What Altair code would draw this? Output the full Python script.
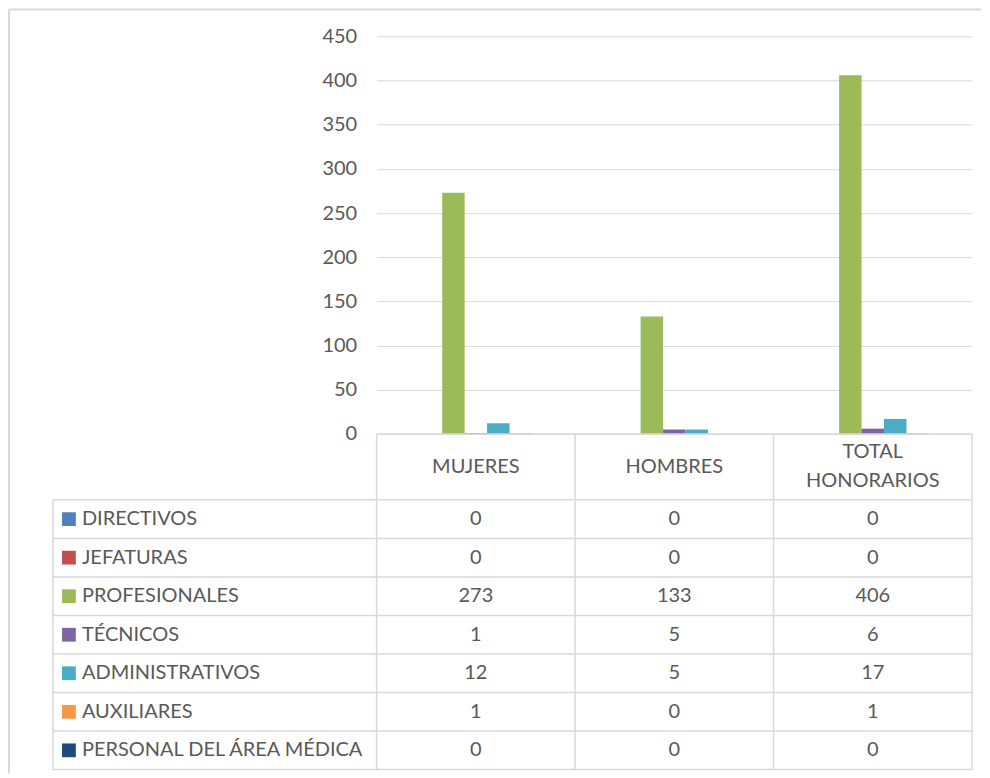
import altair as alt
import pandas as pd

# ---- data ----
categories = ["MUJERES", "HOMBRES", "TOTAL HONORARIOS"]
series = ["DIRECTIVOS", "JEFATURAS", "PROFESIONALES", "TÉCNICOS",
          "ADMINISTRATIVOS", "AUXILIARES", "PERSONAL DEL ÁREA MÉDICA"]
mujeres = [0, 0, 273, 1, 12, 1, 0]
hombres = [0, 0, 133, 5, 5, 0, 0]
total_honorarios = [0, 0, 406, 6, 17, 1, 0]
colors = ["#4F81BD", "#C0504D", "#9BBB59", "#8064A2", "#4BACC6", "#F79646", "#1F497D"]
y_ticks = [0, 50, 100, 150, 200, 250, 300, 350, 400, 450]

# ---- layout / style ----
W = 596
H_BARS = 398
H_TABLE = 336
HEADER = 1.71            # header row height in row units
N_ROWS = len(series)
ROW_PX = H_TABLE / (HEADER + N_ROWS)
COL_PX = W / 3
LEFT_COL = 324 / COL_PX  # legend column width in column units
FONT = "Lato"
TXT = "#595959"
GRID = "#d9d9d9"
FS = 20
LINE_H = 29

values_by_cat = {"MUJERES": mujeres, "HOMBRES": hombres, "TOTAL HONORARIOS": total_honorarios}
rows = []
for c in categories:
    for s, v in zip(series, values_by_cat[c]):
        rows.append({"category": c, "series": s, "value": v})
df = pd.DataFrame(rows)

color_scale = alt.Scale(domain=series, range=colors)

bars = alt.Chart(df).mark_bar().encode(
    x=alt.X("category:N", sort=categories,
            scale=alt.Scale(paddingInner=0, paddingOuter=0), axis=None),
    xOffset=alt.XOffset("series:N", sort=series,
                        scale=alt.Scale(paddingInner=0, paddingOuter=0.92)),
    y=alt.Y("value:Q", scale=alt.Scale(domain=[0, 450], nice=False),
            axis=alt.Axis(values=y_ticks, title=None, domain=False, ticks=False,
                          gridColor=GRID, labelColor=TXT, labelFont=FONT,
                          labelFontSize=FS, labelPadding=20)),
    color=alt.Color("series:N", scale=color_scale, legend=None),
)

one = pd.DataFrame({"k": [0]})
top_border = alt.Chart(one).mark_rule(color=GRID, strokeWidth=2).encode(
    x=alt.value(-368), x2=alt.value(605), y=alt.value(-27))
left_border_top = alt.Chart(one).mark_rule(color=GRID, strokeWidth=2).encode(
    x=alt.value(-368), y=alt.value(-27), y2=alt.value(H_BARS))

top = alt.layer(top_border, left_border_top, bars).properties(width=W, height=H_BARS)

# ---- table ----
xs = alt.Scale(domain=[0, 3], nice=False, zero=False)
ys = alt.Scale(domain=[0, HEADER + N_ROWS], nice=False, zero=False, reverse=True)

lines = [{"x": 0, "x2": 3, "y": 0, "y2": 0}]
for k in range(N_ROWS + 1):
    lines.append({"x": -LEFT_COL, "x2": 3, "y": HEADER + k, "y2": HEADER + k})
for i in range(4):
    lines.append({"x": i, "x2": i, "y": 0, "y2": HEADER + N_ROWS})
lines.append({"x": -LEFT_COL, "x2": -LEFT_COL, "y": HEADER, "y2": HEADER + N_ROWS})
lines_df = pd.DataFrame(lines)

grid = alt.Chart(lines_df).mark_rule(color=GRID, strokeWidth=1.5).encode(
    x=alt.X("x:Q", scale=xs, axis=None), x2="x2:Q",
    y=alt.Y("y:Q", scale=ys, axis=None), y2="y2:Q")

# header labels: one text per line, block centred in the header row
head_rows = []
for i, c in enumerate(categories):
    parts = c.split(" ")
    n = len(parts)
    for k, p in enumerate(parts):
        off = (k - (n - 1) / 2) * LINE_H / ROW_PX
        head_rows.append({"label": p, "xp": i + 0.5, "yp": HEADER / 2 + off})
header_df = pd.DataFrame(head_rows)
header = alt.Chart(header_df).mark_text(
    font=FONT, fontSize=FS, color=TXT, baseline="middle", align="center").encode(
    x=alt.X("xp:Q", scale=xs, axis=None), y=alt.Y("yp:Q", scale=ys, axis=None),
    text="label:N")

cell_rows = []
for i, c in enumerate(categories):
    for j, (s, v) in enumerate(zip(series, values_by_cat[c])):
        cell_rows.append({"xp": i + 0.5, "yp": HEADER + j + 0.5, "value": v})
cells_df = pd.DataFrame(cell_rows)
cells = alt.Chart(cells_df).mark_text(
    font=FONT, fontSize=FS, color=TXT, baseline="middle", align="center").encode(
    x=alt.X("xp:Q", scale=xs, axis=None), y=alt.Y("yp:Q", scale=ys, axis=None),
    text="value:Q")

leg_df = pd.DataFrame({"series": series,
                       "yp": [HEADER + j + 0.5 for j in range(N_ROWS)],
                       "sq": [-LEFT_COL + 16 / COL_PX] * N_ROWS,
                       "lx": [-LEFT_COL + 29 / COL_PX] * N_ROWS})
squares = alt.Chart(leg_df).mark_point(shape="square", filled=True, opacity=1, size=190).encode(
    x=alt.X("sq:Q", scale=xs, axis=None), y=alt.Y("yp:Q", scale=ys, axis=None),
    color=alt.Color("series:N", scale=color_scale, legend=None))
leg_text = alt.Chart(leg_df).mark_text(
    font=FONT, fontSize=FS, color=TXT, baseline="middle", align="left").encode(
    x=alt.X("lx:Q", scale=xs, axis=None), y=alt.Y("yp:Q", scale=ys, axis=None),
    text="series:N")

left_border_bottom = alt.Chart(one).mark_rule(color=GRID, strokeWidth=2).encode(
    x=alt.value(-368), y=alt.value(0), y2=alt.value(H_TABLE + 4))

table = alt.layer(left_border_bottom, grid, squares, leg_text, header, cells).properties(
    width=W, height=H_TABLE)

chart = alt.vconcat(top, table, spacing=0, bounds="flush").resolve_scale(
    x="independent", y="independent"
).properties(
    padding={"left": 0, "top": 0, "right": 0, "bottom": 0}
).configure_view(stroke=None)

chart.save("out.html", embed_options={"renderer": "svg", "actions": False})
